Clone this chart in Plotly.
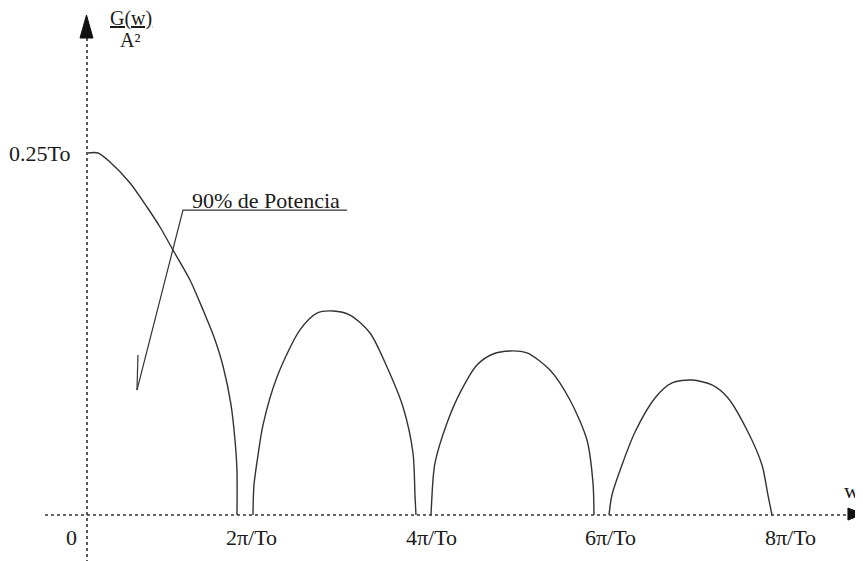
import plotly.graph_objects as go

# ---- data (w in units of pi/To, G(w)/A^2 in units of To) ----
main_lobe_x = [0.189, 0.300, 0.433, 0.656, 0.844, 0.989, 1.133, 1.322, 1.411, 1.500, 1.589, 1.689, 1.778, 1.822, 1.844, 1.844]
main_lobe_y = [0.250, 0.250, 0.2438, 0.2293, 0.2127, 0.1989, 0.1830, 0.1623, 0.1499, 0.1367, 0.1229, 0.1029, 0.0760, 0.0518, 0.0311, 0.0]

lobe2_x = [2.022, 2.033, 2.078, 2.133, 2.289, 2.544, 2.733, 2.911, 3.100, 3.322, 3.511, 3.689, 3.800, 3.822, 3.833]
lobe2_y = [0.0, 0.0207, 0.0414, 0.0621, 0.0953, 0.1278, 0.1395, 0.1409, 0.1381, 0.1257, 0.1022, 0.0746, 0.0428, 0.0138, 0.0]

lobe3_x = [4.000, 4.022, 4.044, 4.178, 4.322, 4.511, 4.689, 4.878, 5.067, 5.322, 5.544, 5.733, 5.800, 5.811]
lobe3_y = [0.0, 0.0242, 0.0359, 0.0635, 0.0843, 0.1036, 0.1112, 0.1133, 0.1119, 0.1001, 0.0794, 0.0518, 0.0221, 0.0]

lobe4_x = [5.978, 6.011, 6.122, 6.267, 6.489, 6.678, 6.900, 7.122, 7.300, 7.522, 7.678, 7.744, 7.789]
lobe4_y = [0.0, 0.0138, 0.0345, 0.0573, 0.0808, 0.0912, 0.0932, 0.0898, 0.0808, 0.0573, 0.0345, 0.0138, 0.0]

tick_positions = [0, 2, 4, 6, 8]
tick_labels = ["0", "2π/To", "4π/To", "6π/To", "8π/To"]

y_label_value = 0.25
y_label_text = "0.25To"
annotation_text = "90% de Potencia"

# ---- style ----
W, H = 863, 561
X_RANGE = [-0.700, 8.889]
Y_RANGE = [-0.03729, 0.35014]
Y_AXIS_X = 0.178
CURVE = dict(color="#333333", width=1.4, shape="spline", smoothing=0.8)
AXIS_LINE = dict(color="#333333", width=1.6, dash="dot")
FONT = "Liberation Serif, Times New Roman, serif"
TXT = "#1a1a1a"

fig = go.Figure()

for xs, ys in [(main_lobe_x, main_lobe_y), (lobe2_x, lobe2_y), (lobe3_x, lobe3_y), (lobe4_x, lobe4_y)]:
    fig.add_trace(go.Scatter(x=xs, y=ys, mode="lines", line=CURVE, hoverinfo="skip"))

# axes (dotted)
fig.add_trace(go.Scatter(x=[Y_AXIS_X, Y_AXIS_X], y=[Y_RANGE[0], 0.3294], mode="lines",
                         line=AXIS_LINE, hoverinfo="skip"))
fig.add_trace(go.Scatter(x=[-0.289, 8.64], y=[0, 0], mode="lines", line=AXIS_LINE, hoverinfo="skip"))

# arrowheads
fig.add_trace(go.Scatter(x=[Y_AXIS_X - 0.078, Y_AXIS_X + 0.066, Y_AXIS_X - 0.006, Y_AXIS_X - 0.078],
                         y=[0.3294, 0.3294, 0.3453, 0.3294], mode="lines", fill="toself",
                         fillcolor="#111111", line=dict(color="#111111", width=1), hoverinfo="skip"))
fig.add_trace(go.Scatter(x=[8.633, 8.633, 8.80, 8.633], y=[0.0048, -0.0035, 0.0007, 0.0048],
                         mode="lines", fill="toself", fillcolor="#111111",
                         line=dict(color="#111111", width=1), hoverinfo="skip"))

# leader line for the annotation
fig.add_trace(go.Scatter(x=[3.067, 1.244, 0.733], y=[0.2106, 0.2106, 0.0863], mode="lines",
                         line=dict(color="#333333", width=1.2), hoverinfo="skip"))
fig.add_trace(go.Scatter(x=[0.744, 0.733], y=[0.1105, 0.0863], mode="lines",
                         line=dict(color="#333333", width=1.2), hoverinfo="skip"))

# text
for pos, lab in zip(tick_positions, tick_labels):
    fig.add_annotation(x=pos, y=0, text=lab, showarrow=False, yanchor="middle", xanchor="center",
                       yshift=-22, font=dict(family=FONT, size=22, color=TXT))
fig.add_annotation(x=0.011, y=y_label_value, text=y_label_text, showarrow=False, xanchor="right",
                   yanchor="middle", font=dict(family=FONT, size=22, color=TXT))
fig.add_annotation(x=2.167, y=0.2175, text=annotation_text, showarrow=False, xanchor="center",
                   yanchor="middle", font=dict(family=FONT, size=22, color=TXT))
fig.add_annotation(x=0.667, y=0.3428, text="<u>G(w)</u>", showarrow=False, xanchor="center",
                   yanchor="middle", font=dict(family=FONT, size=20, color=TXT))
fig.add_annotation(x=0.656, y=0.3278, text="A²", showarrow=False, xanchor="center",
                   yanchor="middle", font=dict(family=FONT, size=20, color=TXT))
fig.add_annotation(x=8.57, y=0.0172, text="w", showarrow=False, xanchor="left",
                   yanchor="middle", font=dict(family=FONT, size=22, color=TXT))

fig.update_layout(
    width=W, height=H, margin=dict(l=0, r=0, t=0, b=0),
    paper_bgcolor="white", plot_bgcolor="white", showlegend=False,
    xaxis=dict(range=X_RANGE, visible=False, fixedrange=True),
    yaxis=dict(range=Y_RANGE, visible=False, fixedrange=True),
)

fig.write_html("out.html")
